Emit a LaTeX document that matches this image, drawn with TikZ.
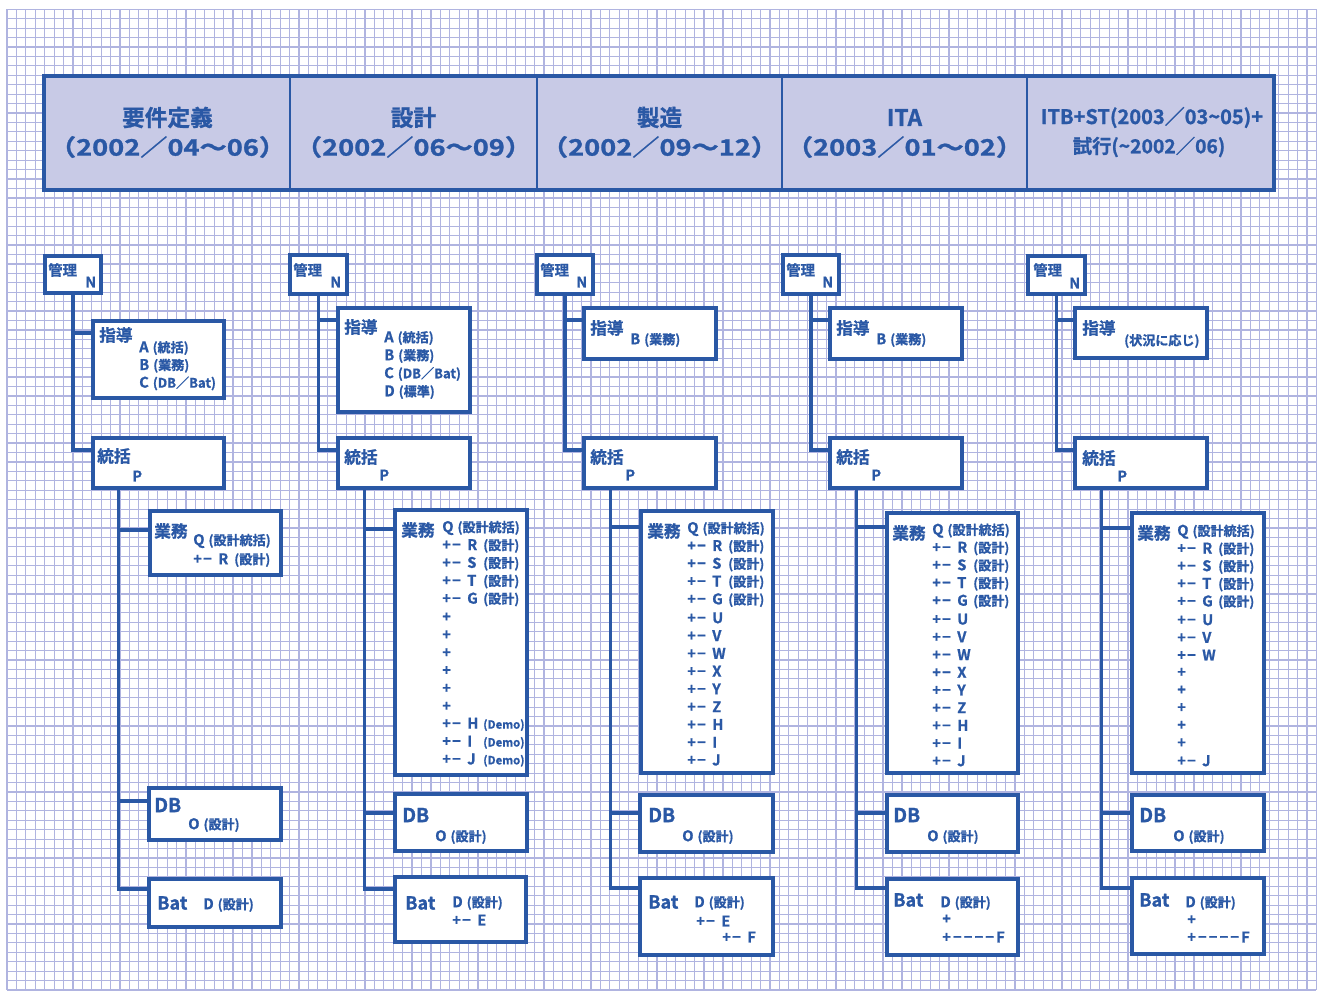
\documentclass[tikz,border=0pt]{standalone}
\usepackage{fontspec}
\setmainfont{Noto Sans CJK JP}[BoldFont={Noto Sans CJK JP Bold},BoldFeatures={FakeBold=1}]
\usetikzlibrary{calc,fit}
\definecolor{bl}{RGB}{42,88,165}
\definecolor{hd}{RGB}{200,202,230}
\definecolor{gr}{RGB}{176,180,224}
\newcommand\tsm[1]{{\fontsize{9.8}{10}\selectfont #1}}
\newcommand\tlat[1]{{\fontsize{8.5}{10}\selectfont #1}}
\newcommand\rowp[2]{\makebox[18.75pt][l]{+\kern1pt−}\makebox[12pt][l]{#1}#2}
\newcommand\dashF{+\kern1.6pt−\kern1.6pt−\kern1.6pt−\kern1.6pt−\kern1.6pt F}
\newcommand\mkbox[5]{\node[bxs, fit={(#2,#3)(#4,#5)}] (#1) {};}
\newcommand\tx[5][]{\node[txt,#1] (#2) at (#3,#4) {#5};}
\begin{document}
\begin{tikzpicture}[x=0.75pt,y=-0.75pt,
 grid/.style={draw=gr,line width=0.9pt},
 bxs/.style={draw=bl,line width=2.6pt,fill=white,inner sep=0pt},
 hcell/.style={draw=bl,line width=1.3pt,fill=hd,inner sep=0pt},
 conn/.style={draw=bl,line width=2.6pt},
 txt/.style={text=bl,inner sep=0pt,anchor=west,font=\bfseries\fontsize{11}{12}\selectfont},
 lab/.style={font=\bfseries\fontsize{12.5}{13}\selectfont},
 kan/.style={font=\bfseries\fontsize{10.8}{11}\selectfont},
 dbf/.style={font=\bfseries\fontsize{14.5}{15}\selectfont},
 batf/.style={font=\bfseries\fontsize{13.5}{14}\selectfont},
 hdt/.style={text=bl,inner sep=0pt,anchor=center,font=\bfseries\fontsize{17}{18}\selectfont},
 hds/.style={text=bl,inner sep=0pt,anchor=center,font=\bfseries\fontsize{15}{16}\selectfont},
]
\useasboundingbox (0,0) rectangle (1324,997);
\fill[white] (0,0) rectangle (1324,997);
% grid
\foreach \i in {0,...,139} \draw[grid] (7+\i*9.42,9.3) -- (7+\i*9.42,990);
\foreach \j in {0,...,104} \draw[grid] (7,9.3+\j*9.43) -- (1316.4,9.3+\j*9.43);

% header
\node[hcell, fit={(45,77)(290,189)}] (h1) {};
\node[hcell, fit={(290,77)(537,189)}] (h2) {};
\node[hcell, fit={(537,77)(782,189)}] (h3) {};
\node[hcell, fit={(782,77)(1027,189)}] (h4) {};
\node[hcell, fit={(1027,77)(1273,189)}] (h5) {};
\draw[bl, line width=3pt] (h1.north west) rectangle (h5.south east);
\node[hdt] (h1a) at (167.5,117.5) {要件定義};
\node[hdt] (h1b) at (167.5,147) {\scalebox{1.2}[1]{（2002／04～06）}};
\node[hdt] (h2a) at (413.5,117.5) {設計};
\node[hdt] (h2b) at (413.5,147) {\scalebox{1.2}[1]{（2002／06～09）}};
\node[hdt] (h3a) at (659.5,117.5) {製造};
\node[hdt] (h3b) at (659.5,147) {\scalebox{1.2}[1]{（2002／09～12）}};
\node[hdt] (h4a) at (904.5,117.5) {ITA};
\node[hdt] (h4b) at (904.5,147) {\scalebox{1.2}[1]{（2003／01～02）}};
\node[hds] (h5a) at (1152,117.5) {ITB+ST(2003／03\char"007E 05)+};
\node[hds,font=\bfseries\fontsize{14.5}{16}\selectfont] (h5b) at (1149,147) {試行(\char"007E 2002／06)};

% ===== column 1 =====
\mkbox{k1}{45}{256}{101}{293}
\mkbox{s1}{93}{321}{224}{398}
\mkbox{t1}{93}{438}{224}{488}
\mkbox{g1}{150}{511}{281}{575}
\mkbox{d1}{149}{788}{281}{840}
\mkbox{b1}{149}{879}{281}{927}
\coordinate (v1) at ($(t1.south west)+(27,0)$);
\draw[conn] (k1.south) |- (s1.west |- 0,333);
\draw[conn] (k1.south) |- (t1.west |- 0,450);
\draw[conn] (v1) |- (g1.west |- 0,530);
\draw[conn] (v1) |- (d1.west |- 0,801);
\draw[conn] (v1) |- (b1.west |- 0,889);
\tx[kan]{k1a}{48}{270}{管理}
\tx{k1n}{85}{282}{N}
\tx[lab]{s1a}{99}{335}{指導}
\tx{s1r0}{139}{348}{A\hspace{3pt}\tsm{(統括)}}
\tx{s1r1}{139}{365.7}{B\hspace{3pt}\tsm{(業務)}}
\tx{s1r2}{139}{383.4}{C\hspace{3pt}\tsm{(DB／Bat)}}
\tx[lab]{t1a}{97}{456}{統括}
\tx{t1p}{132}{476}{P}
\tx[lab]{g1a}{154}{531}{業務}
\tx{g1r0}{193}{541}{Q\hspace{3pt}\tsm{(設計統括)}}
\tx{g1r1}{193}{560}{\rowp{R}{\tsm{(設計)}}}
\tx[dbf]{d1a}{154}{805}{DB}
\tx{d1r}{188}{825}{O\hspace{3pt}\tsm{(設計)}}
\tx[batf]{b1a}{157}{903}{Bat}
\tx{b1r}{203}{905}{D\hspace{3pt}\tsm{(設計)}}

% ===== column 2 =====
\mkbox{k2}{290}{255}{347}{294}
\mkbox{s2}{338}{308}{470}{412}
\mkbox{t2}{338}{438}{470}{488}
\mkbox{g2}{395}{510}{527}{775}
\mkbox{d2}{395}{794}{527}{851}
\mkbox{b2}{395}{877}{526}{942}
\coordinate (v2) at ($(t2.south west)+(28,0)$);
\draw[conn] (k2.south) |- (s2.west |- 0,320);
\draw[conn] (k2.south) |- (t2.west |- 0,450);
\draw[conn] (v2) |- (g2.west |- 0,529);
\draw[conn] (v2) |- (d2.west |- 0,813);
\draw[conn] (v2) |- (b2.west |- 0,889);
\tx[kan]{k2a}{293}{270}{管理}
\tx{k2n}{330}{282}{N}
\tx[lab]{s2a}{344}{327}{指導}
\tx{s2r0}{384}{338}{A\hspace{3pt}\tsm{(統括)}}
\tx{s2r1}{384}{356}{B\hspace{3pt}\tsm{(業務)}}
\tx{s2r2}{384}{374}{C\hspace{3pt}\tsm{(DB／Bat)}}
\tx{s2r3}{384}{392}{D\hspace{3pt}\tsm{(標準)}}
\tx[lab]{t2a}{344}{457}{統括}
\tx{t2p}{379}{475}{P}
\tx[lab]{g2a}{401}{530}{業務}
\foreach \t [count=\i from 0] in {{Q\hspace{3pt}\tsm{(設計統括)}},{\rowp{R}{\tsm{(設計)}}},{\rowp{S}{\tsm{(設計)}}},{\rowp{T}{\tsm{(設計)}}},{\rowp{G}{\tsm{(設計)}}},+,+,+,+,+,+,{\rowp{H}{\tlat{(Demo)}}},{\rowp{I}{\tlat{(Demo)}}},{\rowp{J}{\tlat{(Demo)}}}}
  \node[txt] (g2r\i) at (442,528+\i*17.85) {\t};
\tx[dbf]{d2a}{402}{815}{DB}
\tx{d2r}{435}{837}{O\hspace{3pt}\tsm{(設計)}}
\tx[batf]{b2a}{405}{903}{Bat}
\tx{b2r0}{452}{903}{D\hspace{3pt}\tsm{(設計)}}
\tx{b2r1}{452}{920}{\rowp{E}{}}

% ===== column 3 =====
\mkbox{k3}{537}{255}{593}{294}
\mkbox{s3}{584}{308}{716}{359}
\mkbox{t3}{584}{438}{716}{488}
\mkbox{g3}{641}{511}{773}{773}
\mkbox{d3}{640}{795}{773}{852}
\mkbox{b3}{640}{878}{773}{955}
\coordinate (v3) at ($(t3.south west)+(28,0)$);
\draw[conn] (k3.south) |- (s3.west |- 0,320);
\draw[conn] (k3.south) |- (t3.west |- 0,450);
\draw[conn] (v3) |- (g3.west |- 0,527);
\draw[conn] (v3) |- (d3.west |- 0,813);
\draw[conn] (v3) |- (b3.west |- 0,888);
\tx[kan]{k3a}{540}{270}{管理}
\tx{k3n}{576}{282}{N}
\tx[lab]{s3a}{590}{328}{指導}
\tx{s3r0}{630}{340}{B\hspace{3pt}\tsm{(業務)}}
\tx[lab]{t3a}{590}{457}{統括}
\tx{t3p}{625}{475}{P}
\tx[lab]{g3a}{647}{531}{業務}
\foreach \t [count=\i from 0] in {{Q\hspace{3pt}\tsm{(設計統括)}},{\rowp{R}{\tsm{(設計)}}},{\rowp{S}{\tsm{(設計)}}},{\rowp{T}{\tsm{(設計)}}},{\rowp{G}{\tsm{(設計)}}},{\rowp{U}{}},{\rowp{V}{}},{\rowp{W}{}},{\rowp{X}{}},{\rowp{Y}{}},{\rowp{Z}{}},{\rowp{H}{}},{\rowp{I}{}},{\rowp{J}{}}}
  \node[txt] (g3r\i) at (687,529+\i*17.77) {\t};
\tx[dbf]{d3a}{648}{815}{DB}
\tx{d3r}{682}{837}{O\hspace{3pt}\tsm{(設計)}}
\tx[batf]{b3a}{648}{902}{Bat}
\tx{b3r0}{694}{903}{D\hspace{3pt}\tsm{(設計)}}
\tx{b3r1}{696}{921}{\rowp{E}{}}
\tx{b3r2}{722}{937}{\rowp{F}{}}

% ===== column 4 =====
\mkbox{k4}{783}{255}{839}{294}
\mkbox{s4}{830}{308}{962}{359}
\mkbox{t4}{830}{438}{962}{488}
\mkbox{g4}{887}{513}{1018}{773}
\mkbox{d4}{887}{795}{1018}{852}
\mkbox{b4}{887}{879}{1018}{955}
\coordinate (v4) at ($(t4.south west)+(28,0)$);
\draw[conn] (k4.south) |- (s4.west |- 0,320);
\draw[conn] (k4.south) |- (t4.west |- 0,450);
\draw[conn] (v4) |- (g4.west |- 0,527);
\draw[conn] (v4) |- (d4.west |- 0,813);
\draw[conn] (v4) |- (b4.west |- 0,888);
\tx[kan]{k4a}{786}{270}{管理}
\tx{k4n}{822}{282}{N}
\tx[lab]{s4a}{836}{328}{指導}
\tx{s4r0}{876}{340}{B\hspace{3pt}\tsm{(業務)}}
\tx[lab]{t4a}{836}{457}{統括}
\tx{t4p}{871}{475}{P}
\tx[lab]{g4a}{892}{533}{業務}
\foreach \t [count=\i from 0] in {{Q\hspace{3pt}\tsm{(設計統括)}},{\rowp{R}{\tsm{(設計)}}},{\rowp{S}{\tsm{(設計)}}},{\rowp{T}{\tsm{(設計)}}},{\rowp{G}{\tsm{(設計)}}},{\rowp{U}{}},{\rowp{V}{}},{\rowp{W}{}},{\rowp{X}{}},{\rowp{Y}{}},{\rowp{Z}{}},{\rowp{H}{}},{\rowp{I}{}},{\rowp{J}{}}}
  \node[txt] (g4r\i) at (932,530.7+\i*17.7) {\t};
\tx[dbf]{d4a}{893}{815}{DB}
\tx{d4r}{927}{837}{O\hspace{3pt}\tsm{(設計)}}
\tx[batf]{b4a}{893}{900}{Bat}
\tx{b4r0}{940}{903}{D\hspace{3pt}\tsm{(設計)}}
\tx{b4r1}{942}{919.3}{+}
\tx{b4r2}{942}{937}{\dashF}

% ===== column 5 =====
\mkbox{k5}{1028}{256}{1085}{294}
\mkbox{s5}{1075}{308}{1207}{358}
\mkbox{t5}{1075}{438}{1207}{488}
\mkbox{g5}{1132}{513}{1264}{773}
\mkbox{d5}{1132}{795}{1264}{851}
\mkbox{b5}{1132}{878}{1264}{954}
\coordinate (v5) at ($(t5.south west)+(28,0)$);
\draw[conn] (k5.south) |- (s5.west |- 0,320);
\draw[conn] (k5.south) |- (t5.west |- 0,450);
\draw[conn] (v5) |- (g5.west |- 0,528);
\draw[conn] (v5) |- (d5.west |- 0,813);
\draw[conn] (v5) |- (b5.west |- 0,888);
\tx[kan]{k5a}{1033}{270}{管理}
\tx{k5n}{1069}{283}{N}
\tx[lab]{s5a}{1082}{328}{指導}
\tx{s5r0}{1124}{341}{\tsm{(状況に応じ)}}
\tx[lab]{t5a}{1082}{458}{統括}
\tx{t5p}{1117}{476}{P}
\tx[lab]{g5a}{1137}{533}{業務}
\foreach \t [count=\i from 0] in {{Q\hspace{3pt}\tsm{(設計統括)}},{\rowp{R}{\tsm{(設計)}}},{\rowp{S}{\tsm{(設計)}}},{\rowp{T}{\tsm{(設計)}}},{\rowp{G}{\tsm{(設計)}}},{\rowp{U}{}},{\rowp{V}{}},{\rowp{W}{}},+,+,+,+,+,{\rowp{J}{}}}
  \node[txt] (g5r\i) at (1177,531.7+\i*17.62) {\t};
\tx[dbf]{d5a}{1139}{815}{DB}
\tx{d5r}{1173}{837}{O\hspace{3pt}\tsm{(設計)}}
\tx[batf]{b5a}{1139}{900}{Bat}
\tx{b5r0}{1185}{903}{D\hspace{3pt}\tsm{(設計)}}
\tx{b5r1}{1187}{920}{+}
\tx{b5r2}{1187}{937}{\dashF}
\end{tikzpicture}
\end{document}
